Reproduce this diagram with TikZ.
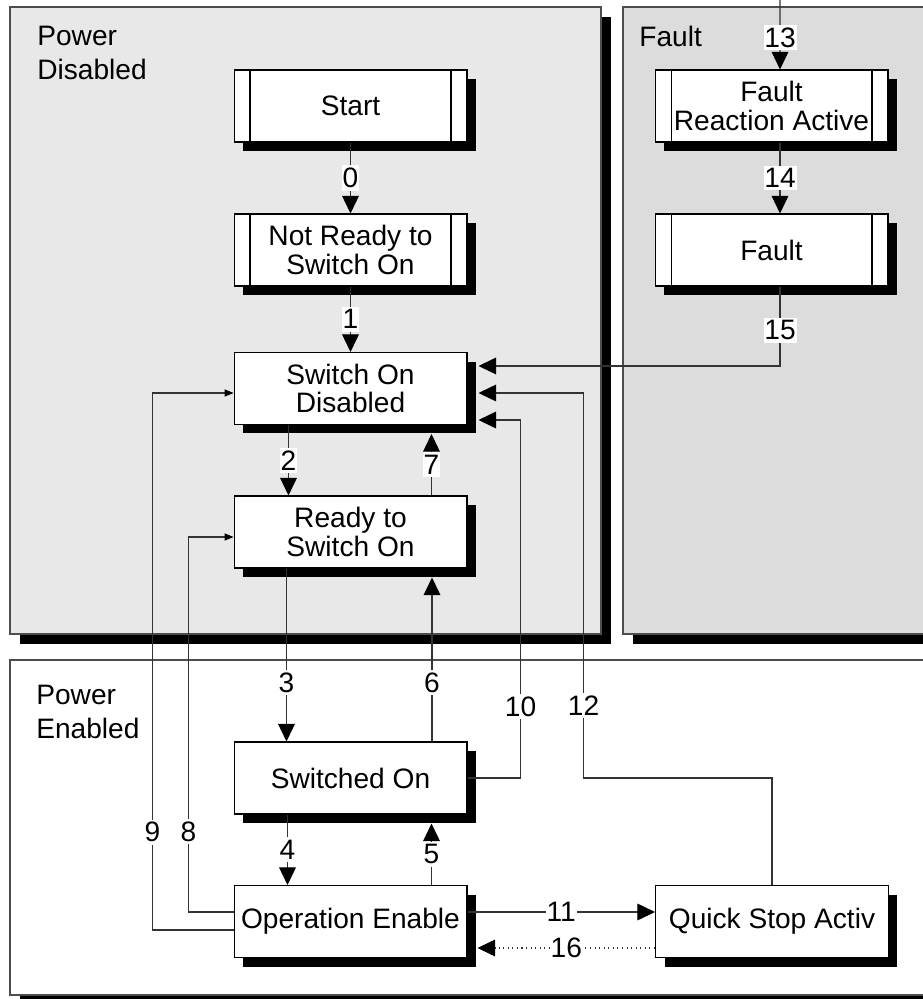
\documentclass[tikz,border=0pt]{standalone}
\usepackage{fontspec}
\setmainfont{Liberation Sans}
\usetikzlibrary{arrows.meta,calc,shadows}
\definecolor{pdgray}{HTML}{E8E8E8}
\definecolor{fltgray}{HTML}{DCDCDC}
\definecolor{rim}{HTML}{4D4D4D}
\begin{document}
\begin{tikzpicture}[x=0.02cm,y=-0.02cm,
  txt/.style={font=\fontsize{16}{16}\selectfont},
  shade9/.style={drop shadow={shadow xshift=0.18cm,shadow yshift=-0.18cm,opacity=1,fill=black}},
  state/.style={draw,line width=0.6pt,fill=white,shade9,minimum width=4.66cm,minimum height=1.44cm,inner sep=0pt,align=center,txt},
  dbl/.style={state,path picture={
    \draw ([xshift=0.32cm]path picture bounding box.north west) -- ([xshift=0.32cm]path picture bounding box.south west);
    \draw ([xshift=-0.32cm]path picture bounding box.north east) -- ([xshift=-0.32cm]path picture bounding box.south east);}},
  panel/.style={draw=rim,line width=0.6pt,drop shadow={shadow xshift=0.2cm,shadow yshift=-0.2cm,opacity=1,fill=black}},
  title/.style={anchor=north west,inner sep=0pt,align=left,font=\fontsize{16}{19}\selectfont},
  wire/.style={draw=black!80,line width=0.6pt},
  bigtip/.style={-{Triangle[length=10pt,width=9.5pt,color=black]}},
  smalltip/.style={-{Triangle[length=5pt,width=4pt,color=black]}},
  lbl/.style={fill=white,inner xsep=0.5pt,inner ysep=1.5pt,txt}]
  \useasboundingbox (0,0) rectangle (922,999);
  % panels
  \draw[panel,fill=pdgray] (10,7) rectangle (601,634);
  \draw[panel,fill=fltgray] (623,7) rectangle (940,634);
  \draw[panel,fill=white] (10,660) rectangle (940,995);
  \node[title] (pdis) at (37,26) {Power\\Disabled};
  \node[title] (pflt) at (639,26) {Fault};
  \node[title] (pena) at (36,685) {Power\\Enabled};
  % states
  \node[dbl] (start) at (350.5,106) {Start};
  \node[dbl] (nrso) at (350.5,250) {Not Ready to\\Switch On};
  \node[state] (sod) at (350.5,388.5) {Switch On\\Disabled};
  \node[state] (rtso) at (350.5,532) {Ready to\\Switch On};
  \node[state] (swon) at (350.5,778) {Switched On};
  \node[state] (opena) at (350.5,921.5) {Operation Enable};
  \node[state] (qsa) at (772,921.5) {Quick Stop Activ};
  \node[dbl] (fra) at (771.5,106) {Fault\\Reaction Active};
  \node[dbl] (flt) at (771.5,250) {Fault};
  \coordinate (top13) at (780,0);
  % transitions
  \draw[wire,bigtip] (start.south) -- node[lbl]{0} (nrso.north);
  \draw[wire,bigtip] (nrso.south) -- node[lbl]{1} (sod.north);
  \draw[wire,bigtip] ($(sod.south)+(-62,0)$) -- node[lbl]{2} ($(rtso.north)+(-62,0)$);
  \draw[wire,bigtip] ($(rtso.south)+(-64,0)$) -- node[lbl,pos=0.66]{3} ($(swon.north)+(-64,0)$);
  \draw[wire,bigtip] ($(swon.south)+(-63,0)$) -- node[lbl]{4} ($(opena.north)+(-63,0)$);
  \draw[wire,bigtip] ($(opena.north)+(81,0)$) -- node[lbl]{5} ($(swon.south)+(81,9)$);
  \draw[wire,bigtip] ($(swon.north)+(81.5,0)$) -- node[lbl,pos=0.36]{6} ($(rtso.south)+(81.5,9)$);
  \draw[wire,bigtip] ($(rtso.north)+(81,0)$) -- node[lbl]{7} ($(sod.south)+(81,9)$);
  \draw[wire,smalltip] ($(opena.west)+(0,-9.5)$) -| node[lbl,pos=0.607]{8} ($(rtso.west)+(-45,5)$) -- ($(rtso.west)+(0,5)$);
  \draw[wire,smalltip] ($(opena.west)+(0,8.5)$) -| node[lbl,pos=0.591]{9} ($(sod.west)+(-81,4.5)$) -- ($(sod.west)+(0,4.5)$);
  \draw[wire,bigtip] (swon.east) -| node[lbl,pos=0.6]{10} ($(sod.south east)+(53,-5)$) -- ($(sod.south east)+(11,-5)$);
  \draw[wire,bigtip] ($(opena.east)+(0,-9.5)$) -- node[lbl]{11} ($(qsa.west)+(0,-9.5)$);
  \draw[wire,bigtip] (qsa.north) |- ($(swon.east)+(116,0)$) |- node[lbl,pos=0.094]{12} ($(sod.east)+(11,4.5)$);
  \draw[wire,bigtip] (top13) -- node[lbl,pos=0.54]{13} ($(fra.north)+(8.5,0)$);
  \draw[wire,bigtip] ($(fra.south)+(8.5,0)$) -- node[lbl]{14} ($(flt.north)+(8.5,0)$);
  \draw[wire,bigtip] ($(flt.south)+(8.5,0)$) |- node[lbl,pos=0.275]{15} ($(sod.east)+(11,-22.5)$);
  \draw[wire,bigtip,dotted] ($(qsa.west)+(0,26.5)$) -- node[lbl]{16} ($(opena.east)+(10,26.5)$);
\end{tikzpicture}
\end{document}
